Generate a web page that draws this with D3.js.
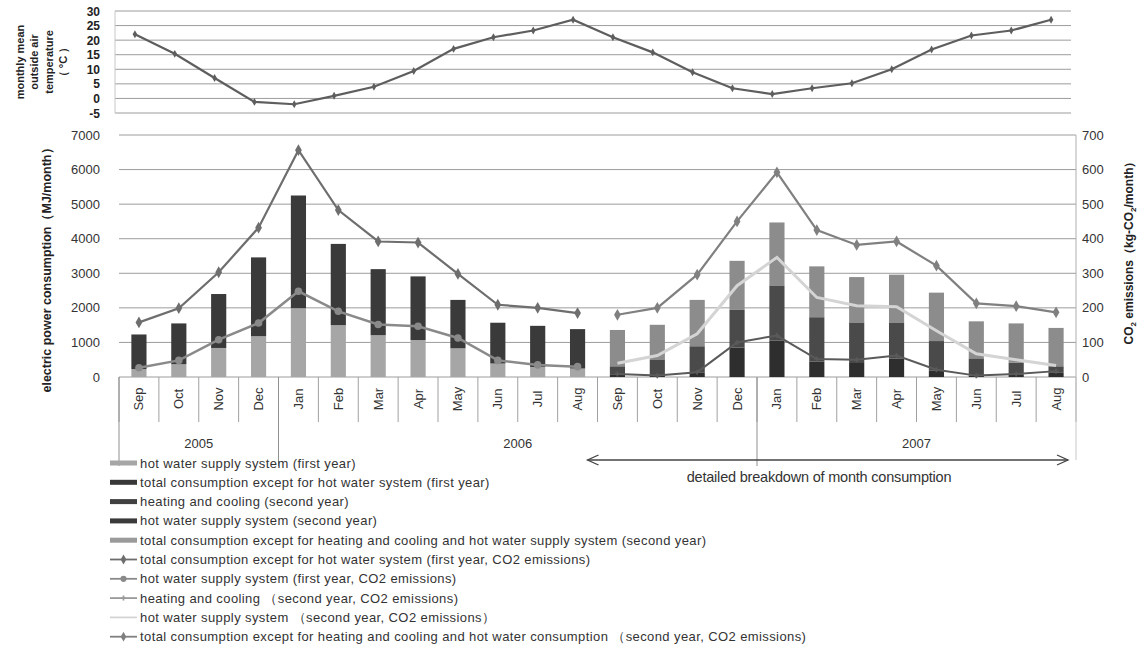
<!DOCTYPE html>
<html>
<head>
<meta charset="utf-8">
<script src="https://cdn.jsdelivr.net/npm/d3@7"></script>
<style>
  body { margin: 0; background: #fff; }
  text { font-family: "Liberation Sans", Arial, sans-serif; fill: #222; }
</style>
</head>
<body>
<div id="chart"></div>
<script>
// ---- data ----
var months = ["Sep","Oct","Nov","Dec","Jan","Feb","Mar","Apr","May","Jun","Jul","Aug",
              "Sep","Oct","Nov","Dec","Jan","Feb","Mar","Apr","May","Jun","Jul","Aug"];
var years = [{label: "2005", first: 0, last: 3}, {label: "2006", first: 4, last: 15}, {label: "2007", first: 16, last: 23}];

var temperature = [22, 15.3, 7, -1.2, -2, 0.9, 4, 9.4, 17, 21, 23.3, 27,
                   21, 15.8, 9, 3.5, 1.5, 3.5, 5.2, 10, 16.8, 21.6, 23.3, 27];
var tempTicks = [-5, 0, 5, 10, 15, 20, 25, 30];

// first year (Sep 2005 - Aug 2006), MJ/month
var hotWater1 = [230, 370, 840, 1180, 1990, 1500, 1210, 1070, 830, 390, 290, 245];
var otherExceptHotWater1 = [1000, 1180, 1560, 2280, 3260, 2350, 1910, 1840, 1400, 1180, 1190, 1140];
// second year (Sep 2006 - Aug 2007), MJ/month
var heating2 = [80, 40, 120, 850, 1050, 450, 430, 530, 180, 40, 80, 120];
var hotWater2 = [230, 470, 770, 1090, 1600, 1280, 1150, 1050, 860, 500, 330, 190];
var otherExceptBoth2 = [1050, 1000, 1340, 1420, 1820, 1470, 1310, 1380, 1400, 1070, 1140, 1110];

// CO2 emissions, kg-CO2/month
var co2Other1 = [158, 199, 303, 432, 656, 483, 392, 389, 298, 209, 200, 185];
var co2HotWater1 = [27, 48, 108, 156, 248, 190, 152, 147, 113, 48, 35, 30];
var co2Heating2 = [9, 4, 14, 100, 120, 52, 50, 62, 21, 4, 9, 17];
var co2HotWater2 = [40, 62, 125, 264, 346, 230, 206, 203, 134, 67, 50, 33];
var co2Other2 = [180, 200, 296, 450, 592, 425, 382, 392, 322, 213, 205, 187];

var powerTicks = d3.range(0, 7001, 1000);
var co2Ticks = d3.range(0, 701, 100);

var legendItems = [
  {label: "hot water supply system (first year)", type: "bar", color: "#a6a6a6"},
  {label: "total consumption except for hot water system (first year)", type: "bar", color: "#383838"},
  {label: "heating and cooling (second year)", type: "bar", color: "#404040"},
  {label: "hot water supply system (second year)", type: "bar", color: "#3a3a3a"},
  {label: "total consumption except for heating and cooling and hot water supply system (second year)", type: "bar", color: "#9a9a9a"},
  {label: "total consumption except for hot water system (first year, CO2 emissions)", type: "line", color: "#6e6e6e", marker: "diamond"},
  {label: "hot water supply system (first year, CO2 emissions)", type: "line", color: "#8a8a8a", marker: "circle"},
  {label: "heating and cooling （second year, CO2 emissions)", type: "line", color: "#9a9a9a", marker: "plus"},
  {label: "hot water supply system （second year, CO2 emissions）", type: "line", color: "#d4d4d4", marker: "none"},
  {label: "total consumption except for heating and cooling and hot water consumption （second year, CO2 emissions)", type: "line", color: "#808080", marker: "diamond"}
];

var width = 1144, height = 648;
var svg = d3.select("#chart").append("svg")
    .attr("width", width).attr("height", height);

// ---- top chart: temperature ----
var xT = d3.scaleBand().domain(d3.range(24)).range([115, 1071]);
var yT = d3.scaleLinear().domain([-5, 30]).range([113, 11]);

svg.append("g").selectAll("line")
    .data(tempTicks).enter().append("line")
      .attr("x1", 115).attr("x2", 1071)
      .attr("y1", function(d) { return yT(d); })
      .attr("y2", function(d) { return yT(d); })
      .attr("stroke", "#9c9c9c").attr("stroke-width", 1);

svg.append("line").attr("x1", 115).attr("x2", 115)
    .attr("y1", yT(30)).attr("y2", yT(-5)).attr("stroke", "#c8c8c8");

svg.append("g").selectAll("text")
    .data(tempTicks).enter().append("text")
      .attr("x", 100).attr("y", function(d) { return yT(d) + 4.5; })
      .attr("text-anchor", "end")
      .style("font-size", "12px").style("font-weight", "bold")
      .text(function(d) { return d; });

var tTitle = svg.append("text")
    .attr("transform", "translate(45,62) rotate(-90)")
    .attr("text-anchor", "middle")
    .style("font-size", "11px").style("font-weight", "bold");
["monthly mean", "outside air", "temperature", "（ °C ）"].forEach(function(s, i) {
  tTitle.append("tspan").attr("x", 0).attr("dy", i == 0 ? "-1.9em" : "1.3em").text(s);
});

var tempLine = d3.line()
    .x(function(d, i) { return xT(i) + xT.bandwidth() / 2; })
    .y(function(d) { return yT(d); });
svg.append("path").datum(temperature)
    .attr("d", tempLine).attr("fill", "none")
    .attr("stroke", "#5e5e5e").attr("stroke-width", 2.2);
svg.append("g").selectAll("path")
    .data(temperature).enter().append("path")
      .attr("d", d3.symbol(d3.symbolDiamond, 18))
      .attr("transform", function(d, i) { return "translate(" + (xT(i) + xT.bandwidth() / 2) + "," + yT(d) + ")"; })
      .attr("fill", "#5e5e5e");

// ---- bottom chart: power and CO2 ----
var x = d3.scaleBand().domain(d3.range(24)).range([119, 1076]);
var yL = d3.scaleLinear().domain([0, 7000]).range([377, 135]);
var yR = d3.scaleLinear().domain([0, 700]).range([377, 135]);
var barW = x.bandwidth() * 0.38;

svg.append("g").selectAll("line")
    .data(powerTicks).enter().append("line")
      .attr("x1", 119).attr("x2", 1076)
      .attr("y1", function(d) { return yL(d); })
      .attr("y2", function(d) { return yL(d); })
      .attr("stroke", "#9c9c9c");

svg.append("line").attr("x1", 1076).attr("x2", 1076)
    .attr("y1", yR(700)).attr("y2", yR(0)).attr("stroke", "#b0b0b0");

svg.append("g").selectAll("text")
    .data(powerTicks).enter().append("text")
      .attr("x", 100).attr("y", function(d) { return yL(d) + 4.5; })
      .attr("text-anchor", "end")
      .style("font-size", "13px").style("fill", "#333")
      .text(function(d) { return d; });

svg.append("g").selectAll("text")
    .data(co2Ticks).enter().append("text")
      .attr("x", 1082).attr("y", function(d) { return yR(d) + 4.5; })
      .style("font-size", "13px").style("fill", "#333")
      .text(function(d) { return d; });

svg.append("text")
    .attr("transform", "translate(51,267) rotate(-90)")
    .attr("text-anchor", "middle")
    .style("font-size", "12.5px").style("font-weight", "bold")
    .text("electric power  consumption（MJ/month）");

var rTitle = svg.append("text")
    .attr("transform", "translate(1133,250) rotate(-90)")
    .attr("text-anchor", "middle")
    .style("font-size", "12px").style("font-weight", "bold");
rTitle.append("tspan").text("CO");
rTitle.append("tspan").attr("dy", 3).style("font-size", "8px").text("2");
rTitle.append("tspan").attr("dy", -3).text(" emissions（kg-CO");
rTitle.append("tspan").attr("dy", 3).style("font-size", "8px").text("2");
rTitle.append("tspan").attr("dy", -3).text("/month）");

// stacked bars
var rows1 = d3.range(12).map(function(i) {
  return {idx: i, hw: hotWater1[i], other: otherExceptHotWater1[i]};
});
var rows2 = d3.range(12).map(function(i) {
  return {idx: i + 12, heat: heating2[i], hw: hotWater2[i], other: otherExceptBoth2[i]};
});
var colors1 = {hw: "#a6a6a6", other: "#3a3a3a"};
var colors2 = {heat: "#2e2e2e", hw: "#4a4a4a", other: "#8c8c8c"};

function drawStack(rows, keys, colors) {
  var stacked = d3.stack().keys(keys)(rows);
  svg.append("g").selectAll("g")
      .data(stacked).enter().append("g")
        .attr("fill", function(d) { return colors[d.key]; })
        .selectAll("rect")
        .data(function(d) { return d; }).enter().append("rect")
          .attr("x", function(d) { return x(d.data.idx) + (x.bandwidth() - barW) / 2; })
          .attr("y", function(d) { return yL(d[1]); })
          .attr("height", function(d) { return yL(d[0]) - yL(d[1]); })
          .attr("width", barW);
}
drawStack(rows1, ["hw", "other"], colors1);
drawStack(rows2, ["heat", "hw", "other"], colors2);

// CO2 lines
function drawLine(values, offset, color, w, marker) {
  var pts = values.map(function(v, i) { return [x(i + offset) + x.bandwidth() / 2, yR(v)]; });
  svg.append("path").datum(pts)
      .attr("d", d3.line()).attr("fill", "none")
      .attr("stroke", color).attr("stroke-width", w);
  if (marker == "none") return;
  var sym = marker == "diamond" ? d3.symbol(d3.symbolDiamond, 40)
          : marker == "circle" ? d3.symbol(d3.symbolCircle, 45)
          : d3.symbol(d3.symbolCross, 14);
  svg.append("g").selectAll("path")
      .data(pts).enter().append("path")
        .attr("d", sym)
        .attr("transform", function(d) { return "translate(" + d[0] + "," + d[1] + ")"; })
        .attr("fill", color);
}
drawLine(co2HotWater2, 12, "#d4d4d4", 3, "none");
drawLine(co2Heating2, 12, "#5a5a5a", 2, "plus");
drawLine(co2HotWater1, 0, "#8a8a8a", 2.5, "circle");
drawLine(co2Other1, 0, "#6e6e6e", 2.2, "diamond");
drawLine(co2Other2, 12, "#808080", 2.2, "diamond");

// category axis: months
var axisG = svg.append("g");
axisG.selectAll("line.sep")
    .data(d3.range(25)).enter().append("line")
      .attr("x1", function(d) { return d < 24 ? x(d) : x.range()[1]; })
      .attr("x2", function(d) { return d < 24 ? x(d) : x.range()[1]; })
      .attr("y1", 377).attr("y2", 422)
      .attr("stroke", "#a0a0a0");
axisG.selectAll("text")
    .data(months).enter().append("text")
      .attr("transform", function(d, i) { return "translate(" + (x(i) + x.bandwidth() / 2 + 4.5) + ",399) rotate(-90)"; })
      .attr("text-anchor", "middle")
      .style("font-size", "13px").style("fill", "#333")
      .text(function(d) { return d; });

// years
svg.append("g").selectAll("line")
    .data([0, 4, 16, 24]).enter().append("line")
      .attr("x1", function(d) { return d < 24 ? x(d) : x.range()[1]; })
      .attr("x2", function(d) { return d < 24 ? x(d) : x.range()[1]; })
      .attr("y1", 377).attr("y2", function(d) { return d == 24 ? 460 : 466; })
      .attr("stroke", function(d) { return d == 24 ? "#c8c8c8" : "#909090"; });
svg.append("g").selectAll("text")
    .data(years).enter().append("text")
      .attr("x", function(d) { return (x(d.first) + x(d.last) + x.bandwidth()) / 2; })
      .attr("y", 448)
      .attr("text-anchor", "middle")
      .style("font-size", "13px").style("fill", "#333")
      .text(function(d) { return d.label; });

// breakdown arrow
var ax1 = x(12) - 10, ax2 = x(23) + x.bandwidth() - 8, ay = 460;
svg.append("line").attr("x1", ax1).attr("x2", ax2).attr("y1", ay).attr("y2", ay)
    .attr("stroke", "#444").attr("stroke-width", 1.3);
svg.append("path")
    .attr("d", "M" + (ax1 + 11) + "," + (ay - 5) + "L" + ax1 + "," + ay + "L" + (ax1 + 11) + "," + (ay + 5) +
               "M" + (ax2 - 11) + "," + (ay - 5) + "L" + ax2 + "," + ay + "L" + (ax2 - 11) + "," + (ay + 5))
    .attr("fill", "none").attr("stroke", "#444").attr("stroke-width", 1.3);
svg.append("text")
    .attr("x", 819).attr("y", 482)
    .attr("text-anchor", "middle")
    .style("font-size", "14.5px").style("letter-spacing", "-0.2px").style("fill", "#333")
    .text("detailed breakdown of month consumption");

// legend
var lg = svg.append("g").attr("transform", "translate(110,463)");
var item = lg.selectAll("g")
    .data(legendItems).enter().append("g")
      .attr("transform", function(d, i) { return "translate(0," + (i * 19.3) + ")"; });
item.filter(function(d) { return d.type == "bar"; }).append("rect")
    .attr("x", 0).attr("y", -2.5).attr("width", 27).attr("height", 5)
    .attr("fill", function(d) { return d.color; });
item.filter(function(d) { return d.type == "line"; }).append("line")
    .attr("x1", 0).attr("x2", 27).attr("y1", 0).attr("y2", 0)
    .attr("stroke", function(d) { return d.color; }).attr("stroke-width", 1.8);
item.filter(function(d) { return d.type == "line" && d.marker != "none"; }).append("path")
    .attr("transform", "translate(13.5,0)")
    .attr("d", function(d) {
      return d.marker == "diamond" ? d3.symbol(d3.symbolDiamond, 28)()
           : d.marker == "circle" ? d3.symbol(d3.symbolCircle, 30)()
           : d3.symbol(d3.symbolCross, 14)();
    })
    .attr("fill", function(d) { return d.color; });
item.append("text")
    .attr("x", 30).attr("y", 4.5)
    .style("font-size", "13px").style("letter-spacing", "0.4px").style("fill", "#333")
    .text(function(d) { return d.label; });
</script>
</body>
</html>
